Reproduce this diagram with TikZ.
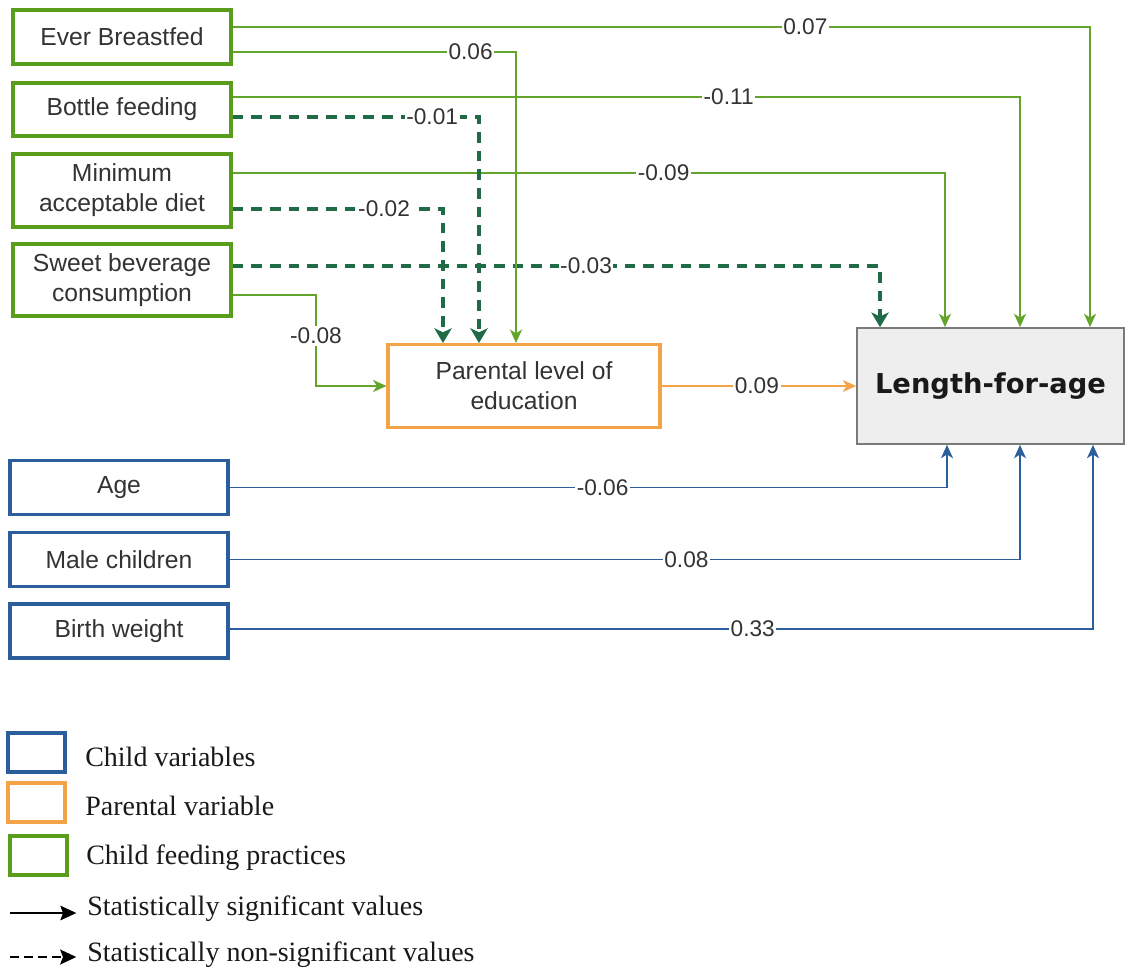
\documentclass[tikz,border=0pt]{standalone}
\usepackage{fontspec}
\setmainfont{Liberation Sans}
\newfontfamily\legfont{Liberation Serif}
\newfontfamily\lenfont{DejaVu Sans}
\usetikzlibrary{arrows.meta}
\definecolor{cgreen}{HTML}{5A9C1C}
\definecolor{cline}{HTML}{62A52A}
\definecolor{cdash}{HTML}{1E6B45}
\definecolor{cblue}{HTML}{2C5E9C}
\definecolor{corange}{HTML}{F5A349}
\definecolor{ctext}{HTML}{333333}
\definecolor{cgray}{HTML}{EEEEEE}
\definecolor{cgrayb}{HTML}{7A7A7A}
\tikzset{
  boxbase/.style={fill=white, line width=2.3pt, align=center, inner sep=0pt, text=ctext,
    font=\fontsize{18.5}{22.5}\selectfont},
  gbox/.style={boxbase, draw=cgreen, minimum width=163.5pt},
  bbox/.style={boxbase, draw=cblue, minimum width=163.5pt, minimum height=40.5pt},
  obox/.style={boxbase, draw=corange, minimum width=204pt, minimum height=62.25pt},
  lbox/.style={draw=cgrayb, fill=cgray, line width=1.3pt, inner sep=0pt,
    minimum width=200.25pt, minimum height=87pt,
    font=\lenfont\bfseries\fontsize{20.5}{24}\selectfont, text=black!90},
  lab/.style={fill=white, inner sep=1.2pt, text=ctext, font=\fontsize{17}{20}\selectfont},
  sig/.style={line width=1.1pt, -{Stealth[length=10pt,width=9pt,inset=2.8pt]}},
  nsig/.style={draw=cdash, line width=2.4pt, dash pattern=on 8pt off 6pt,
    -{Stealth[length=11pt,width=13pt,inset=3pt]}},
  legsq/.style={draw, line width=3pt, minimum width=42.75pt, minimum height=29.25pt, inner sep=0pt},
  legtxt/.style={anchor=west, inner sep=0pt, text=black!90, font=\legfont\fontsize{21}{24}\selectfont},
}
\begin{document}
\begin{tikzpicture}[x=0.75pt,y=-0.75pt]
\useasboundingbox (0,0) rectangle (1126,974);

% feeding practice boxes
\node[gbox, minimum height=40.5pt]  (eb)  at (122,37)    {Ever Breastfed};
\node[gbox, minimum height=39.75pt] (bf)  at (122,109.5) {Bottle feeding};
\node[gbox, minimum height=54.75pt] (mad) at (122,190.5) {Minimum\\acceptable diet};
\node[gbox, minimum height=54pt]    (sbc) at (122,280)   {Sweet beverage\\consumption};

% parental and outcome
\node[obox] (par) at (524,386) {Parental level of\\education};
\node[lbox] (len) at (990.5,386) {Length-for-age};

% child boxes
\node[bbox] (age)  at (119,487.5) {Age};
\node[bbox] (male) at (119,559.5) {Male children};
\node[bbox] (bw)   at (119,631)   {Birth weight};

% connectors to Length-for-age from feeding practices
\draw[sig, cline] (eb.east |- 0,27) -| node[lab,pos=0.334]{0.07} (len.north -| 1090,0);
\draw[sig, cline] (bf.east |- 0,97) -| node[lab,pos=0.315]{-0.11} (len.north -| 1020,0);
\draw[sig, cline] (mad.east |- 0,173) -| node[lab,pos=0.3025]{-0.09} (len.north -| 945,0);
\draw[nsig] (sbc.east |- 0,266) -| node[lab,pos=0.273]{-0.03} (len.north -| 880,0);

% connectors to parental education
\draw[sig, cline] (eb.east |- 0,52) -| node[lab,pos=0.42]{0.06} (par.north -| 516,0);
\draw[nsig] (bf.east |- 0,117) -| node[lab,pos=0.405]{-0.01} (par.north -| 479,0);
\draw[nsig] (mad.east |- 0,209) -| node[lab,pos=0.36]{-0.02} (par.north -| 443,0);
\draw[sig, cline] (sbc.east |- 0,295) -| node[lab,pos=0.725]{-0.08} (par.west -| 316,0) -- (par.west);

% parental to outcome
\draw[sig, corange] (par.east) -- node[lab,pos=0.49]{0.09} (len.west |- par.east);

% child variables
\draw[sig, cblue] (age.east) -| node[lab,pos=0.26]{-0.06} (len.south -| 947,0);
\draw[sig, cblue] (male.east) -| node[lab,pos=0.289]{0.08} (len.south -| 1020,0);
\draw[sig, cblue] (bw.east |- 0,629) -| node[lab,pos=0.303]{0.33} (len.south -| 1093,0);

% legend
\node[legsq, draw=cblue]   (lg1) at (36.5,752.5) {};
\node[legsq, draw=corange] (lg2) at (36.5,802.5) {};
\node[legsq, draw=cgreen]  (lg3) at (38.5,855)   {};
\node[legtxt] (lt1) at (85,757) {Child variables};
\node[legtxt] (lt2) at (85,806) {Parental variable};
\node[legtxt] (lt3) at (86,858) {Child feeding practices};
\node[legtxt] (lt4) at (87,909) {Statistically significant values};
\node[legtxt] (lt5) at (87,955) {Statistically non-significant values};
\coordinate (la1) at (10,913);
\coordinate (la2) at (10,957);
\draw[black, line width=1.1pt, shorten >=8pt, -{Stealth[length=12pt,width=11pt,inset=2pt]}] (la1) -- (la1 -| lt4.west);
\draw[black, line width=2.2pt, dash pattern=on 7pt off 3.5pt, shorten >=8pt, -{Stealth[length=12pt,width=11pt,inset=2pt]}] (la2) -- (la2 -| lt5.west);
\end{tikzpicture}
\end{document}
